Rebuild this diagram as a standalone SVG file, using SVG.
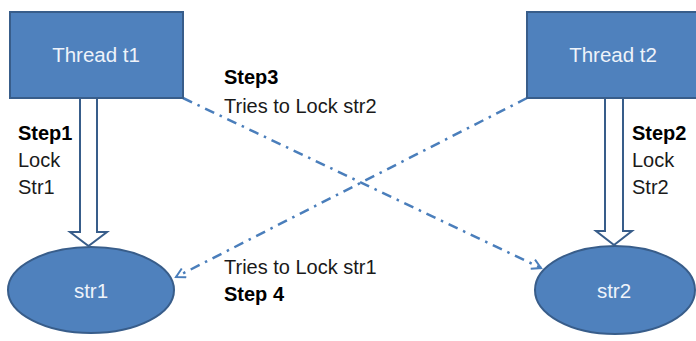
<svg xmlns="http://www.w3.org/2000/svg" width="696" height="341" viewBox="0 0 696 341">
<defs>
<style>
.box{fill:#4f81bd;stroke:#385d8a;stroke-width:2}
.nt{font-family:"Liberation Sans",Arial,sans-serif;font-size:20.5px;fill:#eef3fa;text-anchor:middle}
.lbl{font-family:"Liberation Sans",Arial,sans-serif;font-size:20px;fill:#1a1a1a}
.b{font-weight:bold;fill:#000}
.ha{fill:#fff;stroke:#385d8a;stroke-width:2;stroke-linejoin:miter}
.dd{fill:none;stroke:#4a7ebb;stroke-width:2.5;stroke-dasharray:10 6 2.5 6}
</style>
<marker id="chev" viewBox="0 0 12 12" refX="10" refY="6" markerWidth="12" markerHeight="12" markerUnits="userSpaceOnUse" orient="auto">
<path d="M1,1 L10,6 L1,11" fill="none" stroke="#4a7ebb" stroke-width="2"/>
</marker>
</defs>
<rect width="696" height="341" fill="#fff"/>
<g id="connectors">
<polygon class="ha" points="80,98 97,98 97,232 107,232 88.5,246 70,232 80,232"/>
<polygon class="ha" points="605,98 623,98 623,231 632,231 614,245 596,231 605,231"/>
<line class="dd" x1="183" y1="98" x2="541" y2="268" marker-end="url(#chev)"/>
<line class="dd" x1="527" y1="98" x2="176" y2="277" marker-end="url(#chev)"/>
</g>
<g id="thread-t1">
<rect class="box" x="10" y="12" width="173" height="86"/>
<text class="nt" x="96" y="62">Thread t1</text>
</g>
<g id="thread-t2">
<rect class="box" x="527" y="12" width="175" height="86"/>
<text class="nt" x="613" y="62">Thread t2</text>
</g>
<g id="str1">
<ellipse class="box" cx="91" cy="290" rx="83" ry="43"/>
<text class="nt" x="91" y="298">str1</text>
</g>
<g id="str2">
<ellipse class="box" cx="615" cy="290" rx="80" ry="44"/>
<text class="nt" x="614" y="298">str2</text>
</g>
<g id="labels">
<text class="lbl b" x="18" y="140">Step1</text>
<text class="lbl" x="18" y="167">Lock</text>
<text class="lbl" x="18" y="194">Str1</text>
<text class="lbl b" x="632" y="140">Step2</text>
<text class="lbl" x="632" y="167">Lock</text>
<text class="lbl" x="632" y="194">Str2</text>
<text class="lbl b" x="224" y="84">Step3</text>
<text class="lbl" x="224" y="113">Tries to Lock str2</text>
<text class="lbl" x="224" y="274">Tries to Lock str1</text>
<text class="lbl b" x="224" y="301">Step 4</text>
</g>
</svg>
